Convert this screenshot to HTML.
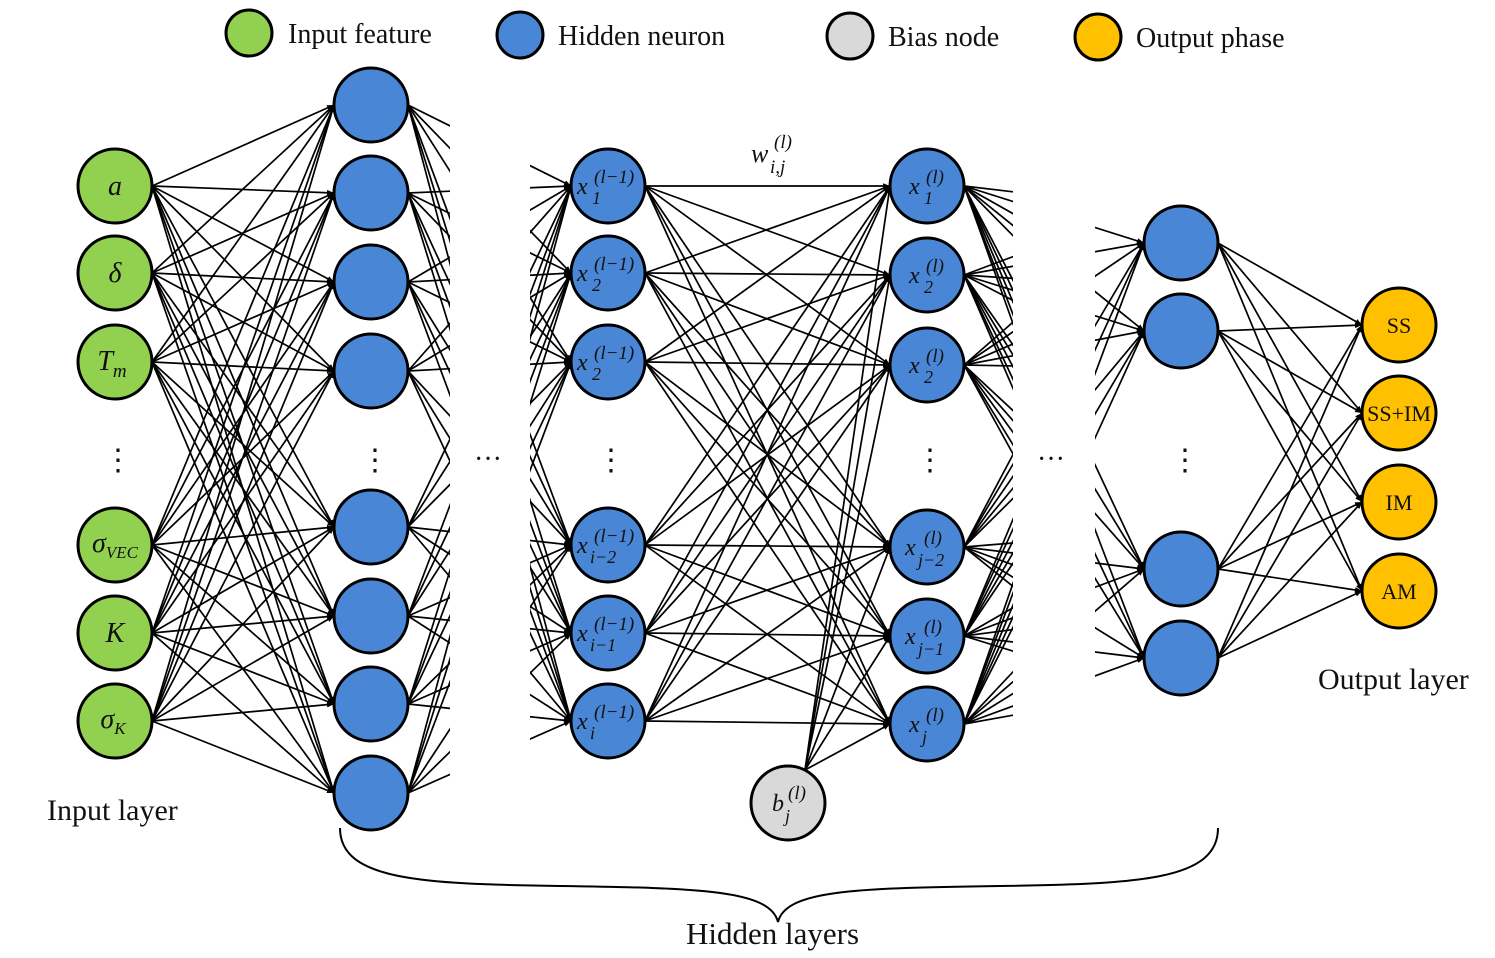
<!DOCTYPE html>
<html><head><meta charset="utf-8">
<style>
html,body{margin:0;padding:0;background:#fff;}
svg{display:block;}
text{font-family:"Liberation Serif",serif;fill:#111;}
.m{font-style:italic;}
</style></head>
<body>
<svg id="s" width="1495" height="958" viewBox="0 0 1495 958" xmlns="http://www.w3.org/2000/svg">
<defs>
<marker id="a" viewBox="0 0 10 10" refX="10" refY="5" markerWidth="7" markerHeight="7" orient="auto" markerUnits="userSpaceOnUse"><path d="M0,1 L10,5 L0,9 z" fill="#000"/></marker>
<clipPath id="c1"><rect x="0" y="0" width="450" height="958"/></clipPath>
<clipPath id="c2"><rect x="530" y="0" width="400" height="958"/></clipPath>
<clipPath id="c3"><rect x="900" y="0" width="113" height="958"/></clipPath>
<clipPath id="c4"><rect x="1095" y="0" width="400" height="958"/></clipPath>
</defs>
<g id="lines" stroke="#000" stroke-width="1.7" fill="none"></g>
<g id="nodes" stroke="#000" stroke-width="3"></g>

<!-- legend -->
<circle cx="249" cy="33" r="23" fill="#92d050" stroke="#000" stroke-width="3"/>
<text x="288" y="43" font-size="28">Input feature</text>
<circle cx="520" cy="35" r="23" fill="#4a86d6" stroke="#000" stroke-width="3"/>
<text x="558" y="45" font-size="28">Hidden neuron</text>
<circle cx="850" cy="36" r="23" fill="#d9d9d9" stroke="#000" stroke-width="3"/>
<text x="888" y="46" font-size="28">Bias node</text>
<circle cx="1098" cy="37" r="23" fill="#ffc000" stroke="#000" stroke-width="3"/>
<text x="1136" y="47" font-size="28">Output phase</text>

<!-- labels -->
<text x="47" y="820" font-size="30">Input layer</text>
<text x="1318" y="689" font-size="30">Output layer</text>
<text x="686" y="944" font-size="31">Hidden layers</text>
<path d="M340,828 C340,880 420,884 560,886 C700,888 770,890 778,922 C786,890 856,888 1000,886 C1140,884 1218,880 1218,828" fill="none" stroke="#000" stroke-width="2"/>

<!-- dots -->
<text x="103" y="470" font-size="30">⋮</text>
<text x="360" y="470" font-size="30">⋮</text>
<text x="596" y="470" font-size="30">⋮</text>
<text x="915" y="470" font-size="30">⋮</text>
<text x="1170" y="470" font-size="30">⋮</text>
<text x="474" y="468" font-size="28">···</text>
<text x="1037" y="468" font-size="28">···</text>

<text x="751" y="162" font-size="26" class="m">w</text><text x="770" y="173" font-size="19" class="m">i,j</text><text x="774" y="148" font-size="19" class="m">(l)</text>

<!-- input labels -->
<g font-size="28" class="m" text-anchor="middle">
<text x="115" y="195">a</text>
<text x="115" y="282">δ</text>
<text x="112" y="370">T<tspan font-size="19" dy="7">m</tspan></text>
<text x="115" y="552">σ<tspan font-size="17" dy="6">VEC</tspan></text>
<text x="115" y="642">K</text>
<text x="113" y="728">σ<tspan font-size="17" dy="6">K</tspan></text>
</g>
<g font-size="24" class="m">
<text x="577" y="194">x</text><text x="592" y="204" font-size="18">1</text><text x="594" y="183" font-size="19">(l−1)</text>
<text x="577" y="281">x</text><text x="592" y="291" font-size="18">2</text><text x="594" y="270" font-size="19">(l−1)</text>
<text x="577" y="370">x</text><text x="592" y="380" font-size="18">2</text><text x="594" y="359" font-size="19">(l−1)</text>
<text x="577" y="553">x</text><text x="590" y="563" font-size="18">i−2</text><text x="594" y="542" font-size="19">(l−1)</text>
<text x="577" y="641">x</text><text x="590" y="651" font-size="18">i−1</text><text x="594" y="630" font-size="19">(l−1)</text>
<text x="577" y="729">x</text><text x="590" y="739" font-size="18">i</text><text x="594" y="718" font-size="19">(l−1)</text>
<text x="909" y="194">x</text><text x="924" y="204" font-size="18">1</text><text x="926" y="183" font-size="19">(l)</text>
<text x="909" y="283">x</text><text x="924" y="293" font-size="18">2</text><text x="926" y="272" font-size="19">(l)</text>
<text x="909" y="373">x</text><text x="924" y="383" font-size="18">2</text><text x="926" y="362" font-size="19">(l)</text>
<text x="905" y="555">x</text><text x="918" y="566" font-size="18">j−2</text><text x="924" y="544" font-size="19">(l)</text>
<text x="905" y="644">x</text><text x="918" y="655" font-size="18">j−1</text><text x="924" y="633" font-size="19">(l)</text>
<text x="909" y="732">x</text><text x="922" y="743" font-size="18">j</text><text x="926" y="721" font-size="19">(l)</text>
<text x="772" y="811">b</text><text x="785" y="822" font-size="18">j</text><text x="788" y="799" font-size="19">(l)</text>
</g>
<g font-size="22" text-anchor="middle">
<text x="1399" y="333">SS</text>
<text x="1399" y="421">SS+IM</text>
<text x="1399" y="510">IM</text>
<text x="1399" y="599">AM</text>
</g>
</svg>
<script>
var NS="http://www.w3.org/2000/svg";
var L=document.getElementById("lines"),N=document.getElementById("nodes");
var R=37;
var inp=[186,273,362,545,633,721];
var l1=[105,193,282,371,527,616,704,793];
var l2=[186,273,362,545,633,721];
var l3=[186,275,365,547,636,724];
var l4=[243,331,569,658];
var out=[325,413,502,591];
function ln(x1,y1,x2,y2,arrow,clip){
 var e=document.createElementNS(NS,"line");
 e.setAttribute("x1",x1);e.setAttribute("y1",y1);e.setAttribute("x2",x2);e.setAttribute("y2",y2);
 if(arrow)e.setAttribute("marker-end","url(#a)");
 if(clip)e.setAttribute("clip-path","url(#"+clip+")");
 L.appendChild(e);
}
function full(xa,ya,xb,yb){ya.forEach(function(a){yb.forEach(function(b){ln(xa+R,a,xb-R,b,true);});});}
full(115,inp,371,l1);
full(608,l2,927,l3);
full(1181,l4,1399,out);
l1.forEach(function(a){l2.forEach(function(b){ln(371+R,a,608-R,b,false,"c1");});});
l1.forEach(function(a){l2.forEach(function(b){ln(371+R,a,608-R,b,true,"c2");});});
l3.forEach(function(a){l4.forEach(function(b){ln(927+R,a,1181-R,b,false,"c3");});});
l3.forEach(function(a){[186,275,365,547,636,724].forEach(function(b){ln(927+R,a,1181-R,b*0.9+40,false,"c3");});});
[186,275,365,547,636,724].forEach(function(a){l4.forEach(function(b){ln(927+R,a,1181-R,b,true,"c4");});});
l3.forEach(function(b){ln(805,770,927-R,b,true);});
function nd(x,y,r,f){var c=document.createElementNS(NS,"circle");c.setAttribute("cx",x);c.setAttribute("cy",y);c.setAttribute("r",r);c.setAttribute("fill",f);N.appendChild(c);}
inp.forEach(function(y){nd(115,y,37,"#92d050");});
l1.forEach(function(y){nd(371,y,37,"#4a86d6");});
l2.forEach(function(y){nd(608,y,37,"#4a86d6");});
l3.forEach(function(y){nd(927,y,37,"#4a86d6");});
l4.forEach(function(y){nd(1181,y,37,"#4a86d6");});
out.forEach(function(y){nd(1399,y,37,"#ffc000");});
nd(788,803,37,"#d9d9d9");
</script>
</body></html>
